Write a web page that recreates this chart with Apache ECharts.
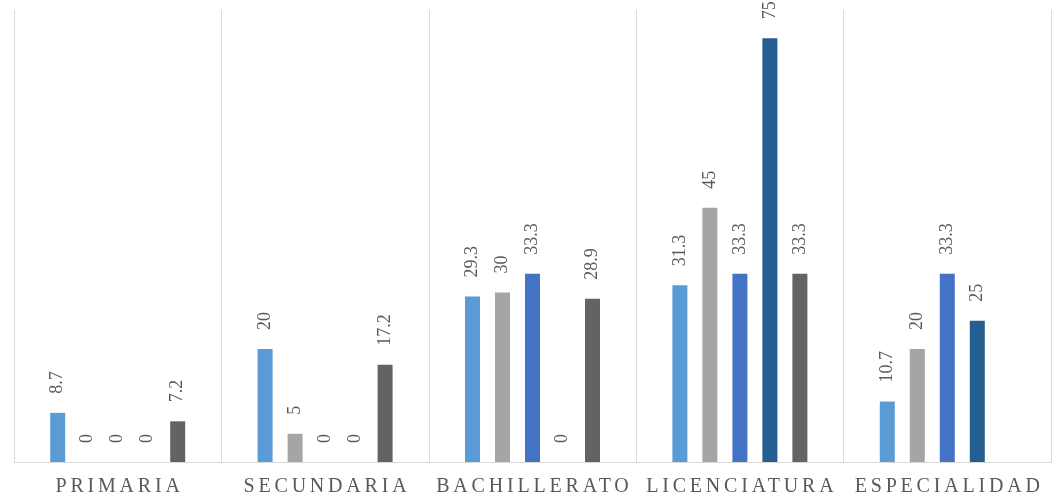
<!DOCTYPE html>
<html>
<head>
<meta charset="utf-8">
<script src="https://cdn.jsdelivr.net/npm/echarts@6/dist/echarts.min.js"></script>
<style>
  html, body { margin: 0; padding: 0; background: #fff; }
  #chart { width: 1056px; height: 502px; }
</style>
</head>
<body>
<div id="chart"></div>
<script>
// Education levels
const categories = ['PRIMARIA', 'SECUNDARIA', 'BACHILLERATO', 'LICENCIATURA', 'ESPECIALIDAD'];

// Percentages per group (null = no bar)
const serie1 = [8.7, 20, 29.3, 31.3, 10.7];
const serie2 = [0, 5, 30, 45, 20];
const serie3 = [0, 0, 33.3, 33.3, 33.3];
const serie4 = [0, 0, 0, 75, 25];
const serie5 = [7.2, 17.2, 28.9, 33.3, null];

const seriesData = [serie1, serie2, serie3, serie4, serie5];
const colors = ['#5B9BD5', '#A5A5A5', '#4472C4', '#255E91', '#636363'];

const FONT = 'Liberation Serif';
const TEXT_COLOR = '#595959';
const CATEGORY_TRACKING = 3.8;

// Wide tracking on the category names only: wrap fillText so those
// strings are drawn with canvas letter spacing, centred on their anchor.
(function () {
  const proto = CanvasRenderingContext2D.prototype;
  const origFill = proto.fillText;
  function draw(ctx, text, x, y, maxW) {
    return maxW === undefined
      ? origFill.call(ctx, text, x, y)
      : origFill.call(ctx, text, x, y, maxW);
  }
  proto.fillText = function (text, x, y, maxW) {
    if ('letterSpacing' in this) {
      const font = this.font;
      if (categories.includes(text)) {
        this.letterSpacing = CATEGORY_TRACKING + 'px';
        this.font = font;
        const shift = this.textAlign === 'center' ? CATEGORY_TRACKING / 2 : 0;
        const r = draw(this, text, x + shift, y, maxW);
        this.letterSpacing = '0px';
        this.font = font;
        return r;
      }
      if (this.letterSpacing !== '0px') {
        this.letterSpacing = '0px';
        this.font = font;
      }
    }
    return draw(this, text, x, y, maxW);
  };
})();

const chart = echarts.init(document.getElementById('chart'), null, { renderer: 'canvas' });

chart.setOption({
  animation: false,
  grid: { left: 14, right: 5, top: 10, bottom: 40, containLabel: false },
  xAxis: {
    type: 'category',
    data: categories,
    axisLine: { show: true, lineStyle: { color: '#D9D9D9', width: 1 } },
    axisTick: { show: false },
    splitLine: { show: true, lineStyle: { color: '#D9D9D9', width: 1 } },
    axisLabel: {
      color: TEXT_COLOR,
      fontFamily: FONT,
      fontSize: 20,
      margin: 15,
      interval: 0,
      hideOverlap: false
    }
  },
  yAxis: {
    type: 'value',
    min: 0,
    max: 80,
    show: false,
    splitLine: { show: false }
  },
  series: seriesData.map((d, i) => ({
    type: 'bar',
    data: d,
    barWidth: 15,
    barGap: '100%',
    itemStyle: { color: colors[i] },
    label: {
      show: true,
      position: 'top',
      rotate: 90,
      align: 'left',
      verticalAlign: 'middle',
      distance: 19,
      color: TEXT_COLOR,
      fontFamily: FONT,
      fontSize: 18,
      formatter: p => (p.value == null ? '' : String(p.value))
    }
  }))
});
</script>
</body>
</html>
